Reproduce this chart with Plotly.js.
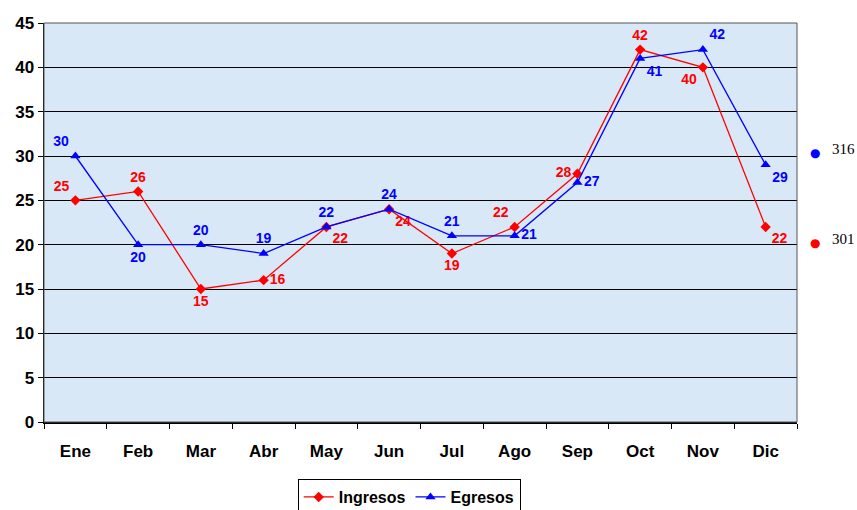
<!DOCTYPE html>
<html>
<head>
<meta charset="utf-8">
<script src="https://cdn.plot.ly/plotly-3.0.1.min.js"></script>
<style>html,body{margin:0;padding:0;background:#fff;}#chart{width:857px;height:510px;}</style>
</head>
<body>
<div id="chart"></div>
<script>
const months = ["Ene","Feb","Mar","Abr","May","Jun","Jul","Ago","Sep","Oct","Nov","Dic"];
const ingresos = [25,26,15,16,22,24,19,22,28,42,40,22];
const egresos = [30,20,20,19,22,24,21,21,27,41,42,29];
const ingresosPos = ["top left","top center","bottom center","middle right","bottom right","bottom right","bottom center","top left","middle left","top center","bottom left","bottom right"];
const egresosPos = ["top left","bottom center","top center","top center","top center","top center","top center","middle right","middle right","bottom right","top right","bottom right"];

const totalIng = ingresos.reduce((a,b)=>a+b,0);
const totalEgr = egresos.reduce((a,b)=>a+b,0);

const FONT = "Liberation Sans, Arial, sans-serif";
const labelFont = (c)=>({family:FONT, size:14, color:c, weight:"bold"});

const traces = [
  {
    x: months, y: ingresos, name: "Ingresos", type: "scatter", mode: "lines+markers+text",
    line: {color: "#ff0000", width: 1.3},
    marker: {symbol: "diamond", size: 8, color: "#ff0000"},
    text: ingresos.map(String), textposition: ingresosPos,
    textfont: labelFont("#ff0000"), cliponaxis: false
  },
  {
    x: months, y: egresos, name: "Egresos", type: "scatter", mode: "lines+markers+text",
    line: {color: "#0000ff", width: 1.3},
    marker: {symbol: "triangle-up", size: 9, color: "#0000ff"},
    text: egresos.map(String), textposition: egresosPos,
    textfont: labelFont("#0000ff"), cliponaxis: false
  }
];

const axisFont = {family:FONT, size:17, color:"#000", weight:"bold"};

const layout = {
  width: 857, height: 510,
  margin: {l: 44, r: 60, t: 23, b: 88, autoexpand: false},
  paper_bgcolor: "#ffffff",
  plot_bgcolor: "#d9e8f6",
  showlegend: true,
  legend: {
    orientation: "h", x: 0.485, xanchor: "center", y: -0.143, yanchor: "top",
    bordercolor: "#000", borderwidth: 1, bgcolor: "#fff",
    font: {family:FONT, size:16, color:"#000", weight:"bold"}, tracegroupgap: 0
  },
  xaxis: {
    type: "category", categoryorder: "array", categoryarray: months,
    range: [-0.5, 11.5], autorange: false,
    showline: true, linecolor: "#000", linewidth: 1.5, mirror: false,
    ticks: "outside", tickson: "boundaries", ticklen: 5, tickcolor: "#000",
    ticklabelstandoff: 13,
    tickfont: axisFont, showgrid: false, zeroline: false
  },
  yaxis: {
    range: [0, 45], dtick: 5, tick0: 0, autorange: false,
    showline: true, linecolor: "#000", linewidth: 1.5,
    ticks: "outside", ticklen: 5, tickcolor: "#000",
    tickfont: axisFont, showgrid: true, gridcolor: "#000", gridwidth: 1, zeroline: false
  },
  shapes: [
    {type:"rect", xref:"paper", yref:"paper", x0:0, x1:1, y0:0, y1:1, line:{color:"#555", width:1}, fillcolor:"rgba(0,0,0,0)", layer:"above"}
  ],
  annotations: [
    {xref:"paper", yref:"paper", x: 1.0235, y: (422-153)/399, text:"●", showarrow:false, font:{family:"DejaVu Sans", size:12, color:"#0000ff"}, xanchor:"center", yanchor:"middle"},
    {xref:"paper", yref:"paper", x: 1.044, y: (422-149)/399, text:String(totalEgr), showarrow:false, font:{family:"Liberation Serif, serif", size:15, color:"#000"}, xanchor:"left", yanchor:"middle"},
    {xref:"paper", yref:"paper", x: 1.0235, y: (422-243)/399, text:"●", showarrow:false, font:{family:"DejaVu Sans", size:12, color:"#ff0000"}, xanchor:"center", yanchor:"middle"},
    {xref:"paper", yref:"paper", x: 1.044, y: (422-239)/399, text:String(totalIng), showarrow:false, font:{family:"Liberation Serif, serif", size:15, color:"#000"}, xanchor:"left", yanchor:"middle"}
  ]
};

Plotly.newPlot("chart", traces, layout, {displayModeBar: false, staticPlot: true});
</script>
</body>
</html>
